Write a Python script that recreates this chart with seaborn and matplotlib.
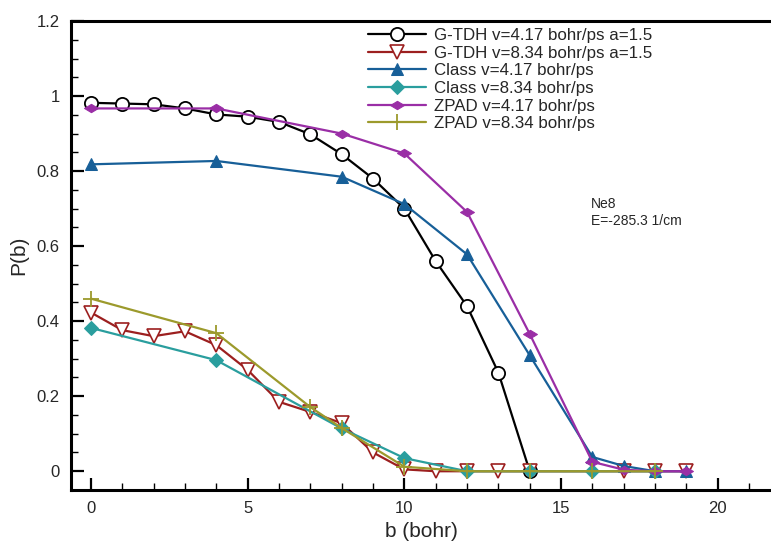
import numpy as np
import pandas as pd
import seaborn as sns
import matplotlib.pyplot as plt
from matplotlib.ticker import MultipleLocator, FormatStrFormatter

# G-TDH runs
b_gtdh_slow = [0, 1, 2, 3, 4, 5, 6, 7, 8, 9, 10, 11, 12, 13, 14]
p_gtdh_slow = [0.982, 0.980, 0.978, 0.967, 0.951, 0.945, 0.931, 0.898, 0.845, 0.78, 0.70, 0.56, 0.44, 0.263, 0.0]
b_gtdh_fast = [0, 1, 2, 3, 4, 5, 6, 7, 8, 9, 10, 11, 12, 13, 14, 17, 18, 19]
p_gtdh_fast = [0.423, 0.376, 0.36, 0.373, 0.336, 0.27, 0.185, 0.158, 0.128, 0.05, 0.005, 0.0, 0.0, 0.0, 0.0, 0.0, 0.0, 0.0]

# classical runs
b_class_slow = [0, 4, 8, 10, 12, 14, 16, 17, 18, 19]
p_class_slow = [0.818, 0.827, 0.785, 0.712, 0.578, 0.309, 0.038, 0.014, 0.0, 0.0]
b_class_fast = [0, 4, 8, 10, 12, 14, 16, 18]
p_class_fast = [0.382, 0.296, 0.114, 0.035, 0.0, 0.0, 0.0, 0.0]

# ZPAD runs
b_zpad_slow = [0, 4, 8, 10, 12, 14, 16, 17, 18, 19]
p_zpad_slow = [0.967, 0.967, 0.90, 0.847, 0.691, 0.366, 0.025, 0.004, 0.0, 0.0]
b_zpad_fast = [0, 4, 7, 8, 10, 12, 14, 16, 18]
p_zpad_fast = [0.46, 0.368, 0.171, 0.115, 0.012, 0.0, 0.0, 0.0, 0.0]

labels = ["G-TDH v=4.17 bohr/ps a=1.5", "G-TDH v=8.34 bohr/ps a=1.5",
          "Class v=4.17 bohr/ps", "Class v=8.34 bohr/ps",
          "ZPAD v=4.17 bohr/ps", "ZPAD v=8.34 bohr/ps"]

sns.set_style("ticks")
plt.rcParams['font.family'] = ['Liberation Sans', 'DejaVu Sans']

fig = plt.figure(figsize=(7.71, 5.43), dpi=100)
ax = fig.add_axes([0.092, 0.0976, 0.908, 0.8637])

# flat diamond like the ZPAD symbol
flat_diamond = [(-1, 0), (0, 0.6), (1, 0), (0, -0.6), (-1, 0)]

series = [
    (b_gtdh_slow, p_gtdh_slow, dict(color="black", marker="o", markersize=9.5, markerfacecolor="white", markeredgecolor="black", markeredgewidth=1.3)),
    (b_gtdh_fast, p_gtdh_fast, dict(color="#9c1f1f", marker="v", markersize=10, markerfacecolor="white", markeredgecolor="#9c1f1f", markeredgewidth=1.2)),
    (b_class_slow, p_class_slow, dict(color="#175f98", marker="^", markersize=9, markerfacecolor="#175f98", markeredgecolor="#175f98")),
    (b_class_fast, p_class_fast, dict(color="#2a9e9e", marker="D", markersize=7, markerfacecolor="#2a9e9e", markeredgecolor="#2a9e9e")),
    (b_zpad_slow, p_zpad_slow, dict(color="#9a2ea6", marker=flat_diamond, markersize=10, markerfacecolor="#9a2ea6", markeredgecolor="#9a2ea6")),
    (b_zpad_fast, p_zpad_fast, dict(color="#9c9a2c", marker="+", markersize=11, markeredgecolor="#9c9a2c", markeredgewidth=1.3)),
]

for (xs, ys, style), lab in zip(series, labels):
    sns.lineplot(x=xs, y=ys, ax=ax, label=lab, linewidth=1.6, **style)

ax.set_xlim(-0.64, 21.7)
ax.set_ylim(-0.05, 1.2)
ax.xaxis.set_major_locator(MultipleLocator(5))
ax.xaxis.set_minor_locator(MultipleLocator(1))
ax.yaxis.set_major_locator(MultipleLocator(0.2))
ax.yaxis.set_minor_locator(MultipleLocator(0.05))
ax.yaxis.set_major_formatter(FormatStrFormatter('%g'))
ax.tick_params(which="major", direction="in", length=9, width=1.6, labelsize=12, color="black", pad=8)
ax.tick_params(which="minor", direction="in", length=5, width=1.0, color="black")
ax.tick_params(top=False, right=False, which="both")

ax.spines["right"].set_visible(False)
for side in ["left", "bottom", "top"]:
    ax.spines[side].set_linewidth(2.2)
    ax.spines[side].set_color("black")

ax.set_xlabel("b (bohr)", fontsize=15)
ax.set_ylabel("P(b)", fontsize=15, labelpad=6)

ax.text(15.95, 0.648, "Ne8\nE=-285.3 1/cm", fontsize=10, linespacing=1.25, va="bottom")

ax.legend(loc="upper left", bbox_to_anchor=(0.415, 1.0), frameon=False, fontsize=12.2,
          handlelength=3.4, handletextpad=0.5, labelspacing=0.16, borderaxespad=0)

fig.savefig("out.png", dpi=100)
